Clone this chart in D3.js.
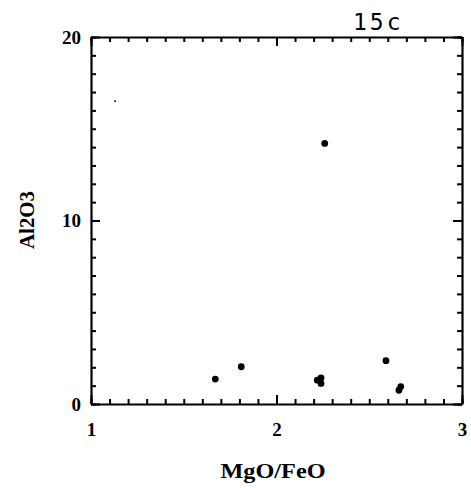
<!DOCTYPE html>
<html lang="en">
  <head>
    <meta charset="utf-8">
    <title>15c</title>
    <script src="https://cdn.jsdelivr.net/npm/d3@7"></script>
    <style>
      body { margin: 0; background: #fff; }
      .axis path { stroke: #000; stroke-width: 2.2; }
      .axis line { stroke: #000; stroke-width: 2; }
      .axis text { font-family: "Liberation Serif", "Times New Roman", serif; font-weight: bold; font-size: 19px; fill: #000; }
      .label { font-family: "Liberation Serif", "Times New Roman", serif; font-weight: bold; font-size: 21px; fill: #000; }
      .title { font-family: "DejaVu Sans Mono", monospace; font-size: 23px; letter-spacing: 3px; fill: #000; }
    </style>
  </head>
  <body>
    <script>
      var mgoFeo = [2.26, 1.67, 1.81, 2.22, 2.24, 2.24, 2.59, 2.66, 2.67];
      var al2o3  = [14.2, 1.36, 2.03, 1.30, 1.12, 1.42, 2.36, 0.75, 0.95];
      var speck  = [[1.13, 16.5]];
      var xTicks = [1, 2, 3];
      var yTicks = [0, 10, 20];

      var w = 471, h = 488;
      var plotL = 91, plotR = 462, plotT = 37, plotB = 404;

      var svg = d3.select("body").append("svg")
                  .attr("width", w)
                  .attr("height", h);

      var xScale = d3.scaleLinear().domain([1, 3]).range([plotL, plotR]);
      var yScale = d3.scaleLinear().domain([0, 20]).range([plotB, plotT]);

      var xMinor = d3.range(1, 3.001, 0.1);
      var yMinor = d3.range(0, 20.001, 1);

      // minor ticks on all four sides, pointing inward
      svg.append("g").attr("class", "axis")
         .attr("transform", "translate(0," + plotB + ")")
         .call(d3.axisBottom(xScale).tickValues(xMinor).tickSize(-5).tickSizeOuter(0).tickFormat(""));
      svg.append("g").attr("class", "axis")
         .attr("transform", "translate(0," + plotT + ")")
         .call(d3.axisTop(xScale).tickValues(xMinor).tickSize(-5).tickSizeOuter(0).tickFormat(""));
      svg.append("g").attr("class", "axis")
         .attr("transform", "translate(" + plotL + ",0)")
         .call(d3.axisLeft(yScale).tickValues(yMinor).tickSize(-5).tickSizeOuter(0).tickFormat(""));
      svg.append("g").attr("class", "axis")
         .attr("transform", "translate(" + plotR + ",0)")
         .call(d3.axisRight(yScale).tickValues(yMinor).tickSize(-5).tickSizeOuter(0).tickFormat(""));

      // major ticks with labels
      var xAxis = svg.append("g").attr("class", "axis")
         .attr("transform", "translate(0," + plotB + ")")
         .call(d3.axisBottom(xScale).tickValues(xTicks).tickSize(-9).tickSizeOuter(0).tickPadding(19).tickFormat(d3.format("d")));
      xAxis.select(".domain").remove();
      var yAxis = svg.append("g").attr("class", "axis")
         .attr("transform", "translate(" + plotL + ",0)")
         .call(d3.axisLeft(yScale).tickValues(yTicks).tickSize(-9).tickSizeOuter(0).tickPadding(10).tickFormat(d3.format("d")));
      yAxis.select(".domain").remove();
      svg.append("g").attr("class", "axis")
         .attr("transform", "translate(0," + plotT + ")")
         .call(d3.axisTop(xScale).tickValues(xTicks).tickSize(-9).tickSizeOuter(0).tickFormat(""))
         .select(".domain").remove();
      svg.append("g").attr("class", "axis")
         .attr("transform", "translate(" + plotR + ",0)")
         .call(d3.axisRight(yScale).tickValues(yTicks).tickSize(-9).tickSizeOuter(0).tickFormat(""))
         .select(".domain").remove();

      svg.selectAll("circle.pt")
         .data(mgoFeo)
         .enter().append("circle")
         .attr("class", "pt")
         .attr("cx", function(d) { return xScale(d); })
         .attr("cy", function(d, i) { return yScale(al2o3[i]); })
         .attr("r", 3.4)
         .attr("fill", "#000");

      svg.selectAll("circle.speck")
         .data(speck)
         .enter().append("circle")
         .attr("class", "speck")
         .attr("cx", function(d) { return xScale(d[0]); })
         .attr("cy", function(d) { return yScale(d[1]); })
         .attr("r", 0.9)
         .attr("fill", "#000");

      svg.append("text").attr("class", "label")
         .attr("x", 273).attr("y", 478)
         .attr("text-anchor", "middle")
         .attr("textLength", 105)
         .attr("lengthAdjust", "spacingAndGlyphs")
         .text("MgO/FeO");

      svg.append("text").attr("class", "label")
         .attr("transform", "translate(34,220) rotate(-90)")
         .attr("text-anchor", "middle")
         .attr("textLength", 58)
         .attr("lengthAdjust", "spacingAndGlyphs")
         .style("font-size", "20px")
         .text("Al2O3");

      svg.append("text").attr("class", "title")
         .attr("x", 353).attr("y", 30)
         .text("15c");
    </script>
  </body>
</html>
